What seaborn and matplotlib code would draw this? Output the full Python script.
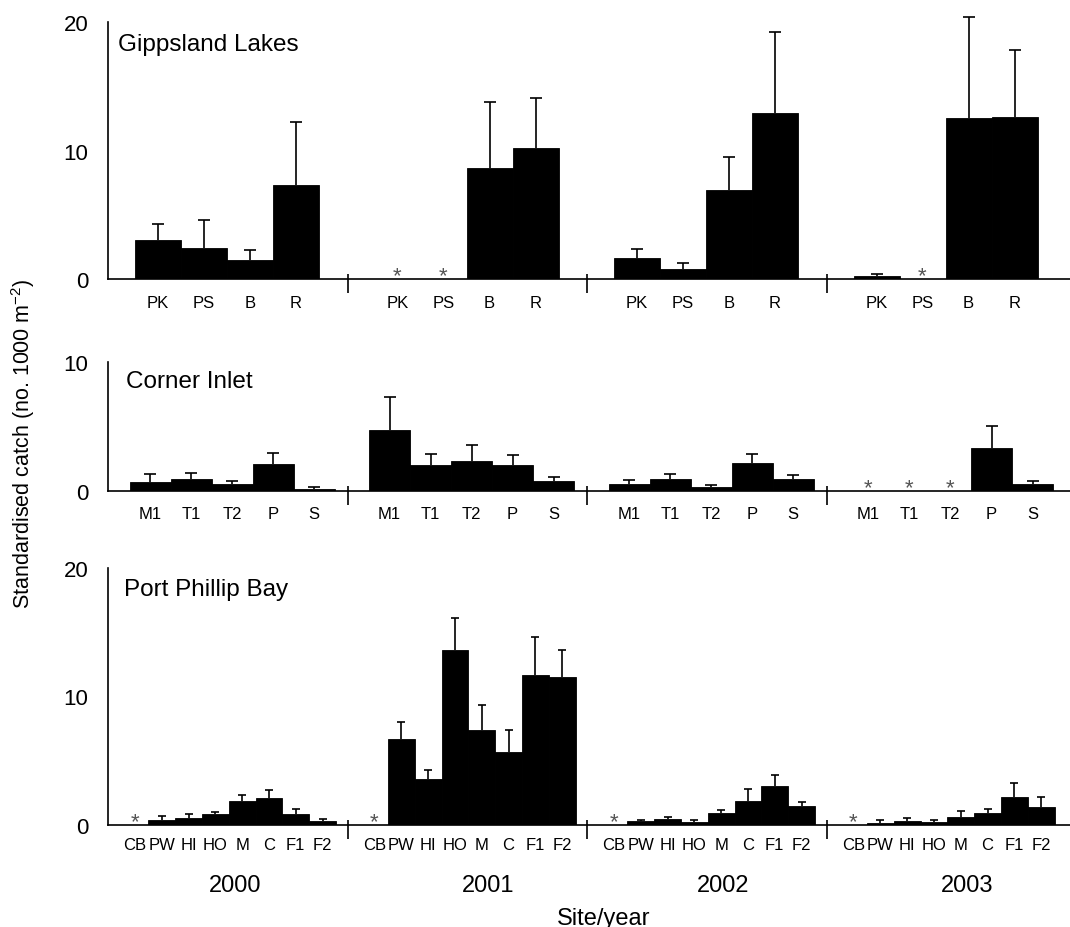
import numpy as np
import pandas as pd
import matplotlib
matplotlib.use("Agg")
import matplotlib.pyplot as plt
import seaborn as sns

# ---- data: standardised catch (mean and SE) by site and year ----
years = ["2000", "2001", "2002", "2003"]

gl_sites = ["PK", "PS", "B", "R"]
gl_mean = [
    [3.0, 2.4, 1.5, 7.35],
    [np.nan, np.nan, 8.6, 10.2],
    [1.6, 0.75, 6.9, 12.9],
    [0.25, np.nan, 12.5, 12.6],
]
gl_se = [
    [1.3, 2.2, 0.75, 4.9],
    [0, 0, 5.2, 3.9],
    [0.7, 0.5, 2.6, 6.3],
    [0.15, 0, 7.9, 5.2],
]

ci_sites = ["M1", "T1", "T2", "P", "S"]
ci_mean = [
    [0.72, 0.95, 0.52, 2.11, 0.15],
    [4.69, 2.01, 2.29, 2.04, 0.75],
    [0.54, 0.90, 0.31, 2.14, 0.90],
    [np.nan, np.nan, np.nan, 3.35, 0.54],
]
ci_se = [
    [0.57, 0.47, 0.28, 0.80, 0.16],
    [2.63, 0.85, 1.27, 0.77, 0.36],
    [0.34, 0.44, 0.18, 0.70, 0.36],
    [0, 0, 0, 1.68, 0.23],
]

ppb_sites = ["CB", "PW", "HI", "HO", "M", "C", "F1", "F2"]
ppb_mean = [
    [np.nan, 0.42, 0.57, 0.88, 1.90, 2.08, 0.83, 0.31],
    [np.nan, 6.73, 3.58, 13.64, 7.40, 5.69, 11.69, 11.48],
    [np.nan, 0.29, 0.44, 0.26, 0.94, 1.90, 3.04, 1.51],
    [np.nan, 0.18, 0.34, 0.21, 0.65, 0.94, 2.18, 1.43],
]
ppb_se = [
    [0, 0.26, 0.29, 0.13, 0.46, 0.65, 0.42, 0.13],
    [0, 1.32, 0.73, 2.46, 1.90, 1.74, 2.91, 2.13],
    [0, 0.10, 0.21, 0.13, 0.23, 0.93, 0.83, 0.31],
    [0, 0.21, 0.21, 0.18, 0.44, 0.28, 1.12, 0.75],
]

# ---- style ----
sns.set_style("white")
plt.rcParams["font.family"] = ["Liberation Sans", "DejaVu Sans"]
plt.rcParams["mathtext.fontset"] = "custom"
plt.rcParams["mathtext.rm"] = "Liberation Sans"
plt.rcParams["mathtext.it"] = "Liberation Sans:italic"
plt.rcParams["mathtext.bf"] = "Liberation Sans:bold"
for key in ("text.color", "axes.labelcolor", "xtick.color", "ytick.color",
            "axes.edgecolor"):
    plt.rcParams[key] = "black"

W, H = 1070, 928
fig = plt.figure(figsize=(W / 100, H / 100), dpi=100)

X_LEFT, X_RIGHT = 108.0, 1070.0
GROUP_W = 239.5


def draw_panel(rect, sites, means, ses, slot0, slot_w, ymax, yticks,
               title, title_xy, label_pad, capsize):
    ax = fig.add_axes(rect)
    rows = []
    for k, yr in enumerate(years):
        start = X_LEFT + GROUP_W * k
        for i, site in enumerate(sites):
            rows.append({"year": yr, "site": site,
                         "pos": start + slot0 + slot_w * i,
                         "catch": means[k][i], "se": ses[k][i]})
    df = pd.DataFrame(rows)

    sns.barplot(data=df, x="pos", y="catch", orient="x", native_scale=True,
                width=1.0, color="black", saturation=1, edgecolor="black",
                linewidth=0.6, errorbar=None, ax=ax)

    # upper standard-error whiskers only
    ok = df["catch"].notna()
    eb = ax.errorbar(df.loc[ok, "pos"], df.loc[ok, "catch"],
                     yerr=[np.zeros(ok.sum()), df.loc[ok, "se"]],
                     fmt="none", ecolor="black", elinewidth=1.2,
                     capsize=capsize, capthick=1.2, zorder=3)
    caps = eb.lines[1]
    if len(caps) == 2:
        caps[0].set_visible(False)
    for art in eb.get_children():
        art.set_clip_on(False)

    # missing samples marked with an asterisk
    for _, r in df[~ok].iterrows():
        ax.annotate("*", xy=(r["pos"], 0), xytext=(0, -1.5),
                    textcoords="offset points", ha="center", va="baseline",
                    color="#555555", fontsize=16)

    # year separators crossing the baseline
    seps = [X_LEFT + GROUP_W * k for k in range(1, 4)]
    ax.vlines(seps, -1.1, 0.4, colors="black", lw=1.2, clip_on=False)

    ax.set_xlim(X_LEFT, X_RIGHT)
    ax.set_ylim(0, ymax)
    ax.set_yticks(yticks)
    ax.set_yticklabels([str(t) for t in yticks])
    ax.set_xticks(df["pos"])
    ax.set_xticklabels(df["site"])
    ax.tick_params(axis="x", length=0, pad=label_pad, labelsize=12)
    ax.tick_params(axis="y", direction="in", length=13, width=1.2,
                   pad=14, labelsize=16)
    ax.set_xlabel("")
    ax.set_ylabel("")
    for s in ("top", "right"):
        ax.spines[s].set_visible(False)
    for s in ("left", "bottom"):
        ax.spines[s].set_linewidth(1.2)
        ax.spines[s].set_color("black")
    fig.text(title_xy[0] / W, 1 - title_xy[1] / H, title, fontsize=17.5,
             ha="left", va="baseline")
    return ax


axw = (X_RIGHT - X_LEFT) / W
draw_panel([X_LEFT / W, 1 - 280 / H, axw, (280 - 23) / H],
           gl_sites, gl_mean, gl_se, 50, 46, 20, [0, 10, 20],
           "Gippsland Lakes", (118, 51), 11.5, 4.3)
draw_panel([X_LEFT / W, 1 - 492 / H, axw, (492 - 363) / H],
           ci_sites, ci_mean, ci_se, 42, 41, 10, [0, 10],
           "Corner Inlet", (126, 388), 11, 4)
draw_panel([X_LEFT / W, 1 - 826 / H, axw, (826 - 569) / H],
           ppb_sites, ppb_mean, ppb_se, 27, 26.8, 20, [0, 10, 20],
           "Port Phillip Bay", (124, 596), 8.5, 3)

# year labels under the bottom panel
year_x = [235, 488, 723, 967]
for x, yr in zip(year_x, years):
    fig.text(x / W, 1 - 875 / H, yr, ha="center", va="top", fontsize=17)

fig.text(604 / W, 1 - 908 / H, "Site/year", ha="center", va="top", fontsize=17)
fig.text(23 / W, 1 - 444 / H,
         "Standardised catch (no. 1000 m$^{\\mathregular{-2}}$)",
         rotation=90, ha="center", va="center", fontsize=15.5)

fig.savefig("out.png", dpi=100)
